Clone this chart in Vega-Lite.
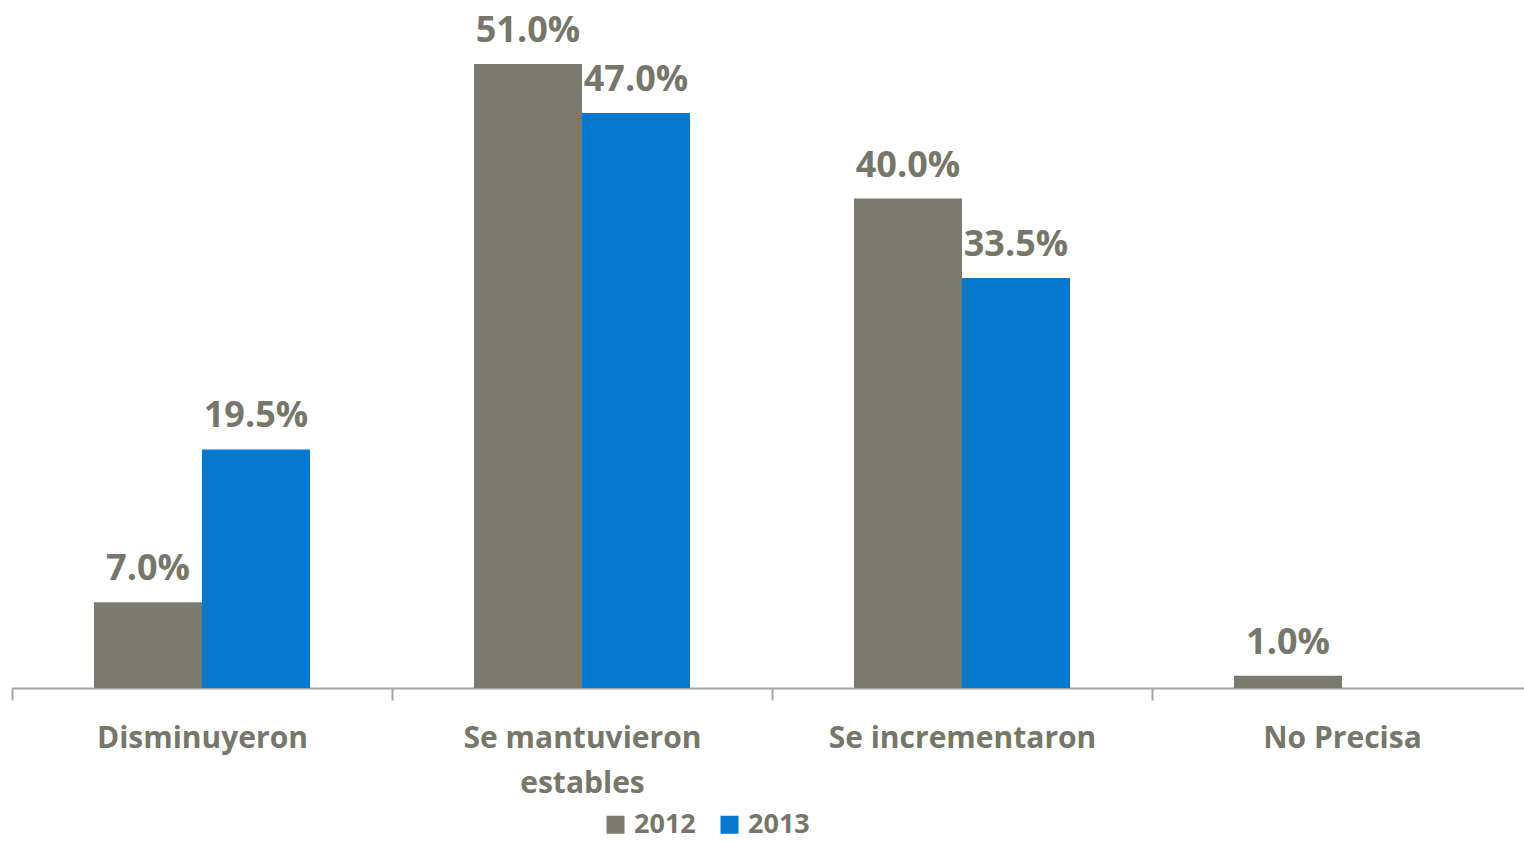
{
  "$schema": "https://vega.github.io/schema/vega-lite/v6.json",
  "width": 1512,
  "height": 688,
  "autosize": {"type": "none"},
  "padding": {"left": 12, "top": 0, "right": 0, "bottom": 153},
  "background": "white",
  "config": {
    "view": {"stroke": null},
    "font": "Open Sans"
  },
  "data": {
    "values": [
      {"cat": "Disminuyeron", "year": "2012", "value": 0.07},
      {"cat": "Disminuyeron", "year": "2013", "value": 0.195},
      {"cat": "Se mantuvieron estables", "year": "2012", "value": 0.51},
      {"cat": "Se mantuvieron estables", "year": "2013", "value": 0.47},
      {"cat": "Se incrementaron", "year": "2012", "value": 0.40},
      {"cat": "Se incrementaron", "year": "2013", "value": 0.335},
      {"cat": "No Precisa", "year": "2012", "value": 0.01}
    ]
  },
  "encoding": {
    "x": {
      "field": "cat",
      "type": "nominal",
      "sort": ["Disminuyeron", "Se mantuvieron estables", "Se incrementaron", "No Precisa"],
      "scale": {"range": [0, 1520], "paddingInner": 0, "paddingOuter": 0},
      "axis": {
        "title": null,
        "labelAngle": 0,
        "labelFont": "Open Sans",
        "labelFontSize": 30,
        "labelFontWeight": "bold",
        "labelColor": "#76766A",
        "labelPadding": 23,
        "labelLineHeight": 45,
        "labelLimit": 500,
        "labelExpr": "datum.label == 'Se mantuvieron estables' ? ['Se mantuvieron', 'estables'] : datum.label",
        "tickBand": "extent",
        "tickSize": 12,
        "tickColor": "#A6A6A6",
        "tickWidth": 2,
        "domainColor": "#A6A6A6",
        "domainWidth": 2,
        "grid": false
      }
    },
    "xOffset": {
      "field": "year",
      "type": "nominal",
      "scale": {"paddingInner": 0, "paddingOuter": 0.759}
    },
    "y": {
      "field": "value",
      "type": "quantitative",
      "scale": {"domain": [0, 0.5623], "nice": false, "zero": true},
      "axis": null
    }
  },
  "layer": [
    {
      "mark": {"type": "bar"},
      "encoding": {
        "color": {
          "field": "year",
          "type": "nominal",
          "scale": {"domain": ["2012", "2013"], "range": ["#7A7A6E", "#0678CE"]},
          "legend": {
            "title": null,
            "orient": "none",
            "direction": "horizontal",
            "legendX": 590,
            "legendY": 811,
            "symbolType": "square",
            "symbolSize": 324,
            "symbolStrokeWidth": 0,
            "symbolOpacity": 1,
            "labelFont": "Open Sans",
            "labelFontSize": 27,
            "labelFontWeight": "bold",
            "labelColor": "#76766A",
            "labelOffset": 5,
            "columnPadding": 20
          }
        }
      }
    },
    {
      "mark": {
        "type": "text",
        "baseline": "alphabetic",
        "dy": -22,
        "font": "Open Sans",
        "fontSize": 36,
        "fontWeight": "bold",
        "color": "#76766A"
      },
      "encoding": {
        "text": {"field": "value", "type": "quantitative", "format": ".1%"}
      }
    }
  ]
}
